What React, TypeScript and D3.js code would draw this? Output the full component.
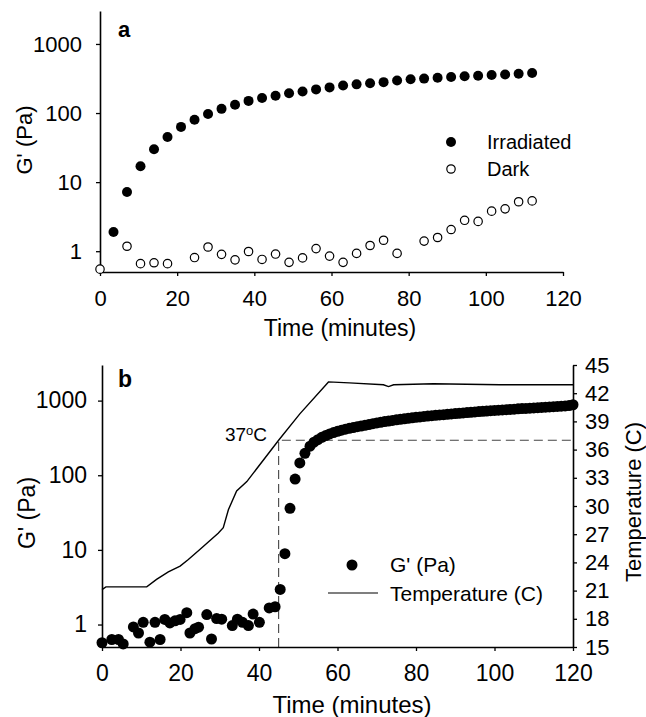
import { useEffect, useRef } from 'react';
import * as d3 from 'd3';

const FONT = "Arial, 'Liberation Sans', Helvetica, sans-serif";

// shared tick labels
const timeTicks = [0, 20, 40, 60, 80, 100, 120];
const gTicks = [1, 10, 100, 1000];
const tempTicks = [15, 18, 21, 24, 27, 30, 33, 36, 39, 42, 45];

// panel a : irradiated vs dark
const irrTime = [3.5, 7, 10.5, 14, 17.5, 21, 24.5, 28, 31.5, 35, 38.5, 42, 45.5, 49, 52.5, 56,
  59.5, 63, 66.5, 70, 73.5, 77, 80.5, 84, 87.5, 91, 94.5, 98, 101.5, 105, 108.5, 112];
const irrG = [1.9, 7.2, 17, 30, 45, 63, 80, 97, 115, 132, 150, 165, 178, 193, 205, 220,
  235, 250, 260, 270, 280, 295, 308, 315, 325, 333, 340, 347, 355, 362, 370, 380];

const darkTime = [0, 7, 10.5, 14, 17.5, 24.5, 28, 31.5, 35, 38.5, 42, 45.5, 49, 52.5, 56,
  59.5, 63, 66.5, 70, 73.5, 77, 84, 87.5, 91, 94.5, 98, 101.5, 105, 108.5, 112];
const darkG = [0.55, 1.18, 0.66, 0.68, 0.66, 0.81, 1.15, 0.9, 0.75, 0.99, 0.76, 0.91, 0.69, 0.8, 1.09,
  0.85, 0.69, 0.93, 1.21, 1.44, 0.93, 1.4, 1.58, 2.06, 2.8, 2.7, 3.8, 4.1, 5.2, 5.35];

// panel b : G' and temperature ramp
const gTime = [0, 2.5, 4.2, 5.4, 8, 9.3, 10.5, 12.2, 13.5, 14.8, 16, 17.3, 18.6, 19.9, 21.6, 22.4,
  23.7, 24.6, 26.7, 27.9, 29.2, 30.5, 33.2, 34.5, 35.8, 37.3, 38.5, 40.1, 42.6, 44.1, 45.4, 46.6,
  47.9, 49.2, 50.4, 51.7,
  53, 54, 55, 56, 57, 58, 59, 60, 61, 62, 63, 64, 65, 66, 67, 68, 69, 70, 71, 72, 73, 74, 75, 76,
  77, 78, 79, 80, 81, 82, 83, 84, 85, 86, 87, 88, 89, 90, 91, 92, 93, 94, 95, 96, 97, 98, 99, 100,
  101, 102, 103, 104, 105, 106, 107, 108, 109, 110, 111, 112, 113, 114, 115, 116, 117, 118, 119, 120];
const gVal = [0.57, 0.63, 0.63, 0.55, 0.93, 0.77, 1.07, 0.58, 1.07, 0.63, 1.17, 1.05, 1.12, 1.17, 1.44, 0.77,
  0.88, 0.92, 1.36, 0.64, 1.2, 1.18, 0.97, 1.18, 1.07, 0.97, 1.38, 1.07, 1.67, 1.73, 2.95, 8.9,
  36, 89, 146, 197,
  245, 277, 300, 322, 340, 358, 373, 388, 402, 414, 425, 436, 447, 457, 467, 478, 490, 502, 513, 523,
  533, 543, 553, 562, 571, 580, 589, 597, 605, 613, 621, 628, 635, 642, 649, 656, 663, 670, 677, 684,
  691, 698, 705, 712, 719, 726, 732, 738, 745, 751, 757, 763, 769, 775, 781, 787, 793, 799, 805, 811,
  817, 823, 829, 836, 843, 850, 858, 880, 895];

const tempTime = [0, 1, 11.4, 13.9, 16.9, 19.9, 22, 25, 29.6, 30.9, 32.2, 34.3, 36.9, 45, 50.4,
  57.7, 63, 71.7, 73, 74.3, 84.4, 101.4, 120];
const tempVal = [21.1, 21.4, 21.4, 22.2, 23.0, 23.6, 24.3, 25.4, 27.1, 27.7, 29.6, 31.6, 32.6, 37.0, 39.8,
  43.2, 43.1, 42.9, 42.7, 42.9, 43.0, 42.9, 42.9];

const markTime = 45;
const markTemp = 37;

const styleAxis = (g: any, size: number) => {
  g.attr('font-family', FONT).attr('font-size', size);
  g.select('.domain').attr('stroke', '#000').attr('stroke-width', 1.6);
  g.selectAll('.tick line').attr('stroke', '#000').attr('stroke-width', 1.3);
  g.selectAll('.tick text').attr('fill', '#000');
};

const buildChart = (el: SVGSVGElement) => {
  const svg = d3.select(el);
  svg.selectAll('*').remove();

  // ---------- panel a ----------
  const xA = d3.scaleLinear().domain([0, 120]).range([100, 563]);
  const yA = d3.scaleLog().domain([0.5, 3000]).range([272, 11]);

  const ax = svg.append('g').attr('transform', 'translate(0,272)')
    .call(d3.axisBottom(xA).tickValues(timeTicks).tickSize(4).tickSizeOuter(0).tickPadding(14).tickFormat(d3.format('d')));
  styleAxis(ax, 22);
  const ay = svg.append('g').attr('transform', 'translate(100,0)')
    .call(d3.axisLeft(yA).tickValues(gTicks).tickSize(4).tickSizeOuter(0).tickPadding(14).tickFormat(d3.format('d')));
  styleAxis(ay, 22);

  svg.append('g').selectAll('circle').data(irrTime).enter().append('circle')
    .attr('cx', (d: number) => xA(d)).attr('cy', (d: number, i: number) => yA(irrG[i]))
    .attr('r', 5).attr('fill', '#000');

  svg.append('g').selectAll('circle').data(darkTime).enter().append('circle')
    .attr('cx', (d: number) => xA(d)).attr('cy', (d: number, i: number) => yA(darkG[i]))
    .attr('r', 4.2).attr('fill', '#fff').attr('stroke', '#000').attr('stroke-width', 1.2);

  svg.append('text').attr('x', 118).attr('y', 37).attr('font-family', FONT).attr('font-weight', 'bold')
    .attr('font-size', 22).text('a');

  svg.append('text').attr('transform', 'translate(32,140) rotate(-90)').attr('text-anchor', 'middle')
    .attr('font-family', FONT).attr('font-size', 22).text("G' (Pa)");
  svg.append('text').attr('x', 340).attr('y', 336).attr('text-anchor', 'middle')
    .attr('font-family', FONT).attr('font-size', 23).text('Time (minutes)');

  // legend a
  svg.append('circle').attr('cx', 451).attr('cy', 142).attr('r', 5).attr('fill', '#000');
  svg.append('text').attr('x', 487).attr('y', 149).attr('font-family', FONT).attr('font-size', 20).text('Irradiated');
  svg.append('circle').attr('cx', 451).attr('cy', 169).attr('r', 4.2).attr('fill', '#fff')
    .attr('stroke', '#000').attr('stroke-width', 1.2);
  svg.append('text').attr('x', 487).attr('y', 176).attr('font-family', FONT).attr('font-size', 20).text('Dark');

  // ---------- panel b ----------
  const xB = d3.scaleLinear().domain([0, 120]).range([102, 573]);
  const yB = d3.scaleLog().domain([0.5, 3000]).range([647, 365]);
  const yT = d3.scaleLinear().domain([15, 45]).range([647, 365]);

  // 37C guide
  svg.append('path')
    .attr('d', `M${xB(markTime)},${yB(0.5)}V${yT(markTemp)}H${xB(120)}`)
    .attr('fill', 'none').attr('stroke', '#444').attr('stroke-width', 1.1).attr('stroke-dasharray', '9,5');

  const line = d3.line<number>().x((d) => xB(d)).y((d, i) => yT(tempVal[i]));
  svg.append('path').datum(tempTime).attr('d', line).attr('fill', 'none')
    .attr('stroke', '#000').attr('stroke-width', 1.4);

  svg.append('g').selectAll('circle').data(gTime).enter().append('circle')
    .attr('cx', (d: number) => xB(d)).attr('cy', (d: number, i: number) => yB(gVal[i]))
    .attr('r', 5.5).attr('fill', '#000');

  const bx = svg.append('g').attr('transform', 'translate(0,647)')
    .call(d3.axisBottom(xB).tickValues(timeTicks).tickSize(4).tickSizeOuter(0).tickPadding(14).tickFormat(d3.format('d')));
  styleAxis(bx, 23);
  const by = svg.append('g').attr('transform', 'translate(102,0)')
    .call(d3.axisLeft(yB).tickValues(gTicks).tickSize(4).tickSizeOuter(0).tickPadding(11).tickFormat(d3.format('d')));
  styleAxis(by, 23);
  const bt = svg.append('g').attr('transform', 'translate(573,0)')
    .call(d3.axisRight(yT).tickValues(tempTicks).tickSize(4).tickSizeOuter(0).tickPadding(8).tickFormat(d3.format('d')));
  styleAxis(bt, 22);

  const lbl = svg.append('text').attr('x', 267).attr('y', 441).attr('text-anchor', 'end')
    .attr('font-family', FONT).attr('font-size', 19);
  lbl.append('tspan').text('37');
  lbl.append('tspan').attr('font-size', 13).attr('dy', -6).text('o');
  lbl.append('tspan').attr('dy', 6).text('C');

  svg.append('text').attr('x', 118).attr('y', 387).attr('font-family', FONT).attr('font-weight', 'bold')
    .attr('font-size', 23).text('b');

  svg.append('text').attr('transform', 'translate(35,513) rotate(-90)').attr('text-anchor', 'middle')
    .attr('font-family', FONT).attr('font-size', 23).text("G' (Pa)");
  svg.append('text').attr('transform', 'translate(641,502) rotate(-90)').attr('text-anchor', 'middle')
    .attr('font-family', FONT).attr('font-size', 22).text('Temperature (C)');
  svg.append('text').attr('x', 352).attr('y', 713).attr('text-anchor', 'middle')
    .attr('font-family', FONT).attr('font-size', 24).text('Time (minutes)');

  // legend b
  svg.append('circle').attr('cx', 352).attr('cy', 565).attr('r', 5.5).attr('fill', '#000');
  svg.append('text').attr('x', 390).attr('y', 572).attr('font-family', FONT).attr('font-size', 21).text("G' (Pa)");
  svg.append('line').attr('x1', 328).attr('x2', 378).attr('y1', 593).attr('y2', 593)
    .attr('stroke', '#000').attr('stroke-width', 1.2);
  svg.append('text').attr('x', 390).attr('y', 601).attr('font-family', FONT).attr('font-size', 21).text('Temperature (C)');
};

const App = () => {
  const ref = useRef<SVGSVGElement>(null);

  useEffect(() => {
    if (ref.current) buildChart(ref.current);
  }, []);

  return (
    <svg ref={ref} width={646} height={717}
      style={{ position: 'absolute', left: 0, top: 0, background: '#fff' }} />
  );
};

export default App;
